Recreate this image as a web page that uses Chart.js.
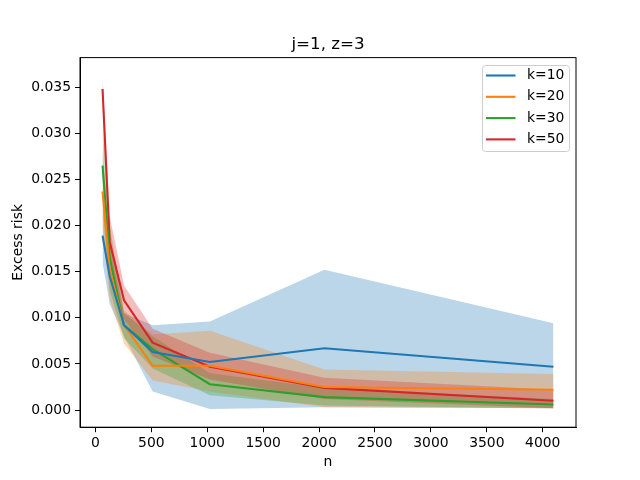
<!DOCTYPE html>
<html>
<head>
<meta charset="utf-8">
<script src="https://cdn.jsdelivr.net/npm/chart.js@4"></script>
<style>
  body { margin: 0; background: #fff; }
  canvas { display: block; }
</style>
</head>
<body>
<canvas id="riskChart" width="640" height="480"></canvas>
<script>
// sample sizes
const nValues = [64, 128, 256, 512, 1024, 2048, 4096];
const xTicks = [0, 500, 1000, 1500, 2000, 2500, 3000, 3500, 4000];
const yTicks = [0, 0.005, 0.01, 0.015, 0.02, 0.025, 0.03, 0.035];

const kLabels = ['k=10', 'k=20', 'k=30', 'k=50'];
const kColours = ['#1f77b4', '#ff7f0e', '#2ca02c', '#d62728'];

// mean excess risk
const k10 = [0.0189, 0.0145, 0.0092, 0.0063, 0.0052, 0.0067, 0.0047];
const k20 = [0.0237, 0.0152, 0.0092, 0.0048, 0.0048, 0.0025, 0.0022];
const k30 = [0.0265, 0.0165, 0.0092, 0.0066, 0.0028, 0.0014, 0.0006];
const k50 = [0.0348, 0.0182, 0.0119, 0.0073, 0.0047, 0.0024, 0.0010];

// shaded band, lower / upper
const k10Lo = [0.0160, 0.0115, 0.0080, 0.0020, 0.0001, 0.0003, 0.0002];
const k10Hi = [0.0220, 0.0175, 0.0105, 0.0092, 0.0096, 0.0152, 0.0094];
const k20Lo = [0.0200, 0.0120, 0.0072, 0.0032, 0.0020, 0.0003, 0.0002];
const k20Hi = [0.0280, 0.0190, 0.0108, 0.0082, 0.0086, 0.0044, 0.0039];
const k30Lo = [0.0220, 0.0130, 0.0078, 0.0045, 0.0016, 0.0005, 0.0002];
const k30Hi = [0.0310, 0.0200, 0.0105, 0.0080, 0.0040, 0.0024, 0.0012];
const k50Lo = [0.0330, 0.0160, 0.0098, 0.0058, 0.0033, 0.0012, 0.0002];
const k50Hi = [0.0362, 0.0210, 0.0135, 0.0088, 0.0062, 0.0035, 0.0022];

const means = [k10, k20, k30, k50];
const lows = [k10Lo, k20Lo, k30Lo, k50Lo];
const highs = [k10Hi, k20Hi, k30Hi, k50Hi];

const FONT = '"DejaVu Sans", sans-serif';

function pts(arr) {
  return arr.map((v, i) => ({ x: nValues[i], y: v }));
}
function alpha(hex, a) {
  const r = parseInt(hex.slice(1, 3), 16), g = parseInt(hex.slice(3, 5), 16), b = parseInt(hex.slice(5, 7), 16);
  return 'rgba(' + r + ',' + g + ',' + b + ',' + a + ')';
}

const datasets = [];
for (let i = 0; i < 4; i++) {
  datasets.push({
    label: 'band-lo', data: pts(lows[i]), borderWidth: 0, pointRadius: 0,
    fill: false, order: 5 - i, tension: 0
  });
  datasets.push({
    label: 'band-hi', data: pts(highs[i]), borderWidth: 0, pointRadius: 0,
    fill: '-1', backgroundColor: alpha(kColours[i], 0.3), order: 5 - i, tension: 0
  });
}
for (let i = 0; i < 4; i++) {
  datasets.push({
    label: kLabels[i], data: pts(means[i]), borderColor: kColours[i],
    borderWidth: 2.1, pointRadius: 0, fill: false, order: 0, tension: 0
  });
}

// frame, title, axis labels, legend
const decor = {
  id: 'decor',
  afterDraw(chart) {
    const ctx = chart.ctx, a = chart.chartArea;
    ctx.save();
    ctx.strokeStyle = '#000';
    ctx.lineWidth = 1;
    ctx.strokeRect(a.left, a.top, a.right - a.left, a.bottom - a.top);

    ctx.fillStyle = '#000';
    ctx.textAlign = 'center';
    ctx.textBaseline = 'alphabetic';
    ctx.font = '16.7px ' + FONT;
    ctx.fillText('j=1, z=3', (a.left + a.right) / 2, 48.5);
    ctx.font = '13.9px ' + FONT;
    ctx.fillText('n', (a.left + a.right) / 2, 466);
    ctx.save();
    ctx.translate(22, (a.top + a.bottom) / 2);
    ctx.rotate(-Math.PI / 2);
    ctx.fillText('Excess risk', 0, 0);
    ctx.restore();

    // legend box
    const bx = 482.5, by = 65.5, bw = 87, bh = 86;
    ctx.fillStyle = 'rgba(255,255,255,0.8)';
    ctx.strokeStyle = '#cccccc';
    ctx.beginPath();
    ctx.roundRect(bx, by, bw, bh, 3);
    ctx.fill();
    ctx.stroke();
    ctx.textAlign = 'left';
    ctx.textBaseline = 'middle';
    for (let i = 0; i < 4; i++) {
      const y = 75.5 + i * 21.3;
      ctx.strokeStyle = kColours[i];
      ctx.lineWidth = 2.1;
      ctx.beginPath();
      ctx.moveTo(486, y);
      ctx.lineTo(515.5, y);
      ctx.stroke();
      ctx.fillStyle = '#000';
      ctx.fillText(kLabels[i], 527, y);
    }
    ctx.restore();
  }
};

new Chart(document.getElementById('riskChart'), {
  type: 'line',
  data: { datasets: datasets },
  options: {
    responsive: false,
    animation: false,
    devicePixelRatio: 1,
    layout: { padding: { top: 57.6, right: 64, left: 0, bottom: 0 } },
    plugins: { legend: { display: false }, title: { display: false }, tooltip: { enabled: false } },
    scales: {
      x: {
        type: 'linear', min: -137.6, max: 4297.6,
        afterFit(s) { s.height = 52.8; },
        afterBuildTicks(s) { s.ticks = xTicks.map(v => ({ value: v })); },
        grid: { drawOnChartArea: false, drawTicks: true, tickLength: 5, color: '#000' },
        border: { display: true, color: '#000' },
        ticks: { color: '#000', font: { family: FONT, size: 13.9 }, padding: 3, maxRotation: 0,
                 callback: v => String(v) }
      },
      y: {
        min: -0.00186, max: 0.0382,
        afterFit(s) { s.width = 80; },
        afterBuildTicks(s) { s.ticks = yTicks.map(v => ({ value: v })); },
        grid: { drawOnChartArea: false, drawTicks: true, tickLength: 5, color: '#000' },
        border: { display: true, color: '#000' },
        ticks: { color: '#000', font: { family: FONT, size: 13.9 }, padding: 4,
                 callback: v => v.toFixed(3) }
      }
    }
  },
  plugins: [decor]
});
</script>
</body>
</html>
